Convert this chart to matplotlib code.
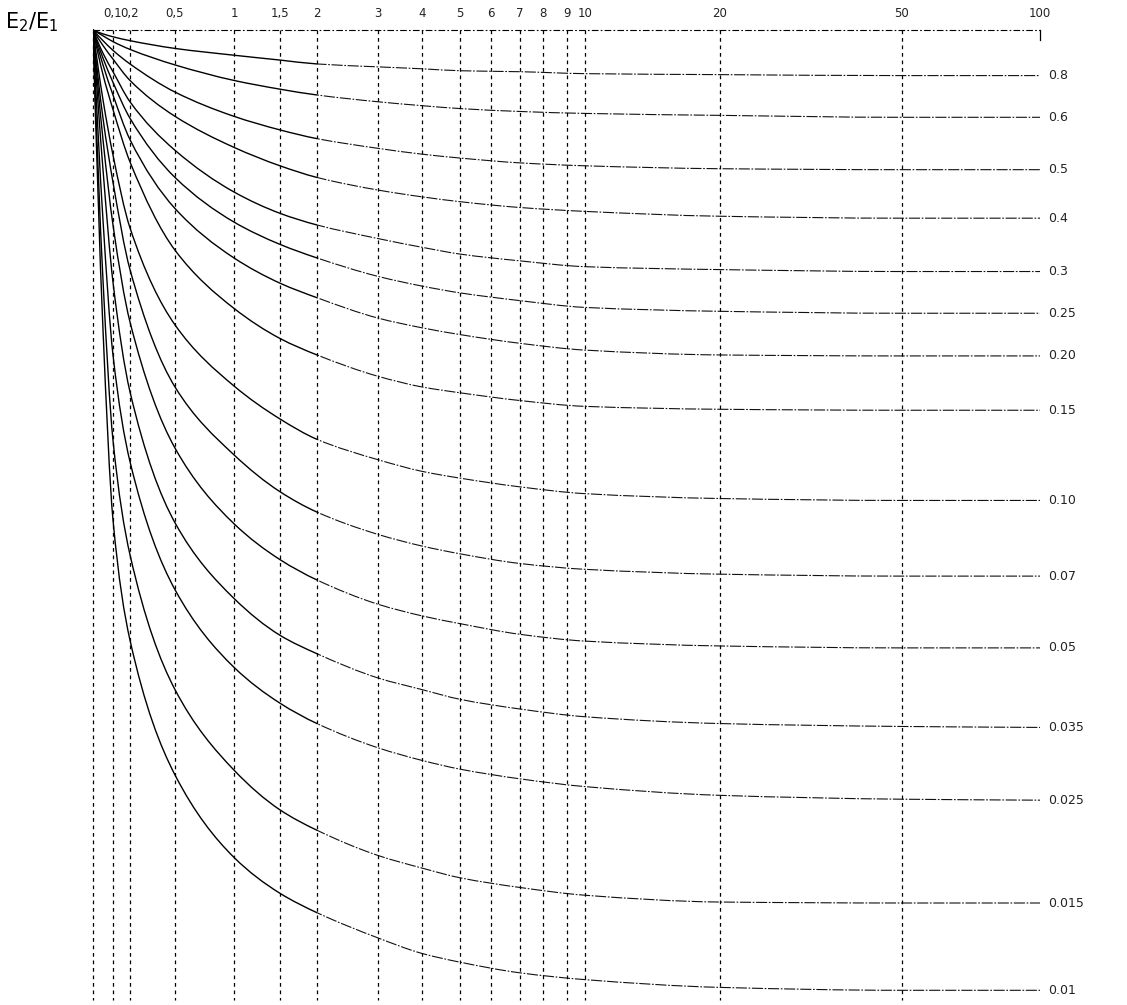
import numpy as np
import matplotlib
matplotlib.use("Agg")
import matplotlib.pyplot as plt
from matplotlib.path import Path
from matplotlib.patches import PathPatch, Rectangle

# top scale: grid values and their labels (comma decimals as in the original)
grid_vals = [0, 0.1, 0.2, 0.5, 1, 1.5, 2, 3, 4, 5, 6, 7, 8, 9, 10, 20, 50, 100]
grid_labels = ["", "0,1", "0,2", "0,5", "1", "1,5", "2", "3", "4", "5", "6",
               "7", "8", "9", "10", "20", "50", "100"]
# the printed scale is irregular, these are the tick places along the top edge
grid_place = [93, 113, 130, 175, 234, 280, 317, 378, 422, 460, 491, 520,
              543, 567, 585, 720, 902, 1040]

# sample points along each curve
x_pts = [0, 0.05, 0.1, 0.2, 0.5, 1, 1.5, 2, 3, 4, 5, 7, 10, 20, 50, 100]

e_080 = [1.000, 0.996, 0.993, 0.989, 0.981, 0.974, 0.969, 0.965, 0.962, 0.960, 0.958, 0.957, 0.955, 0.954, 0.953, 0.953]
e_060 = [1.000, 0.994, 0.988, 0.980, 0.964, 0.948, 0.939, 0.933, 0.926, 0.922, 0.919, 0.916, 0.914, 0.912, 0.910, 0.910]
e_050 = [1.000, 0.989, 0.979, 0.965, 0.936, 0.911, 0.897, 0.888, 0.878, 0.872, 0.868, 0.863, 0.860, 0.857, 0.856, 0.856]
e_040 = [1.000, 0.984, 0.970, 0.948, 0.911, 0.879, 0.860, 0.848, 0.835, 0.828, 0.823, 0.817, 0.813, 0.808, 0.806, 0.806]
e_030 = [1.000, 0.976, 0.957, 0.926, 0.876, 0.833, 0.811, 0.799, 0.785, 0.776, 0.769, 0.762, 0.756, 0.753, 0.751, 0.751]
e_025 = [1.000, 0.971, 0.946, 0.909, 0.848, 0.802, 0.779, 0.765, 0.746, 0.736, 0.729, 0.721, 0.714, 0.710, 0.708, 0.708]
e_020 = [1.000, 0.964, 0.933, 0.887, 0.816, 0.765, 0.739, 0.724, 0.703, 0.693, 0.686, 0.677, 0.670, 0.665, 0.664, 0.664]
e_015 = [1.000, 0.954, 0.918, 0.864, 0.773, 0.713, 0.682, 0.665, 0.643, 0.632, 0.626, 0.618, 0.612, 0.609, 0.608, 0.608]
e_010 = [1.000, 0.928, 0.871, 0.796, 0.696, 0.633, 0.599, 0.578, 0.557, 0.545, 0.538, 0.529, 0.522, 0.517, 0.515, 0.515]
e_007 = [1.000, 0.909, 0.843, 0.753, 0.632, 0.562, 0.524, 0.503, 0.480, 0.468, 0.460, 0.450, 0.444, 0.439, 0.437, 0.437]
e_005 = [1.000, 0.887, 0.799, 0.699, 0.569, 0.491, 0.454, 0.433, 0.408, 0.396, 0.388, 0.377, 0.370, 0.365, 0.363, 0.363]
e_0035 = [1.000, 0.856, 0.740, 0.627, 0.492, 0.414, 0.376, 0.357, 0.332, 0.320, 0.310, 0.300, 0.292, 0.285, 0.282, 0.281]
e_0025 = [1.000, 0.804, 0.665, 0.555, 0.423, 0.343, 0.306, 0.285, 0.260, 0.247, 0.238, 0.228, 0.220, 0.211, 0.207, 0.206]
e_0015 = [1.000, 0.742, 0.577, 0.459, 0.320, 0.237, 0.196, 0.175, 0.149, 0.136, 0.126, 0.116, 0.108, 0.101, 0.100, 0.100]
e_001 = [1.000, 0.691, 0.495, 0.371, 0.232, 0.147, 0.110, 0.090, 0.064, 0.048, 0.039, 0.028, 0.021, 0.013, 0.010, 0.010]

curve_labels = ["0.8", "0.6", "0.5", "0.4", "0.3", "0.25", "0.20", "0.15",
                "0.10", "0.07", "0.05", "0.035", "0.025", "0.015", "0.01"]
curves = [e_080, e_060, e_050, e_040, e_030, e_025, e_020, e_015,
          e_010, e_007, e_005, e_0035, e_0025, e_0015, e_001]


def fwd(x):
    return np.interp(x, grid_vals, grid_place)


def inv(p):
    return np.interp(p, grid_place, grid_vals)


def smooth_path(xs, ys):
    """monotone cubic through the read points, drawn as bezier segments"""
    X = fwd(np.asarray(xs, float))
    Y = np.asarray(ys, float)
    h = np.diff(X)
    d = np.diff(Y) / h
    n = len(X)
    m = np.zeros(n)
    for i in range(1, n - 1):
        if d[i - 1] * d[i] > 0:
            w1 = 2 * h[i] + h[i - 1]
            w2 = h[i] + 2 * h[i - 1]
            m[i] = (w1 + w2) / (w1 / d[i - 1] + w2 / d[i])
    m0 = ((2 * h[0] + h[1]) * d[0] - h[0] * d[1]) / (h[0] + h[1])
    if np.sign(m0) != np.sign(d[0]):
        m0 = 0
    elif abs(m0) > 3 * abs(d[0]):
        m0 = 3 * d[0]
    m[0] = m0
    m[-1] = d[-1]
    verts = [(X[0], Y[0])]
    codes = [Path.MOVETO]
    for i in range(n - 1):
        verts += [(X[i] + h[i] / 3, Y[i] + m[i] * h[i] / 3),
                  (X[i + 1] - h[i] / 3, Y[i + 1] - m[i + 1] * h[i] / 3),
                  (X[i + 1], Y[i + 1])]
        codes += [Path.CURVE4] * 3
    verts = np.array(verts)
    verts[:, 0] = inv(verts[:, 0])
    return Path(verts, codes)


fig = plt.figure(figsize=(11.27, 10.05), dpi=100)
fig.patch.set_facecolor("white")
ax = fig.add_axes([93 / 1127, 5 / 1005, 947 / 1127, 970 / 1005])
ax.set_xscale("function", functions=(fwd, inv))
ax.set_xlim(0, 100)
ax.set_ylim(0, 1)
ax.axis("off")

# vertical dashed grid
for v in grid_vals[:-1]:
    ax.plot([v, v], [1, 0], color="black", lw=0.9, ls=(0, (3, 3)),
            clip_on=False)

# top line E2/E1 = 1
ax.plot([0, 100], [1, 1], color="black", lw=0.8, ls=(0, (6, 2, 1.5, 2)),
        clip_on=False)
ax.plot([100, 100], [1, 0.99], color="black", lw=0.9, clip_on=False)

left_part = Rectangle((0, -0.1), 2, 1.2, transform=ax.transData,
                      fill=False, visible=False)
right_part = Rectangle((2, -0.1), 98.5, 1.2, transform=ax.transData,
                       fill=False, visible=False)
ax.add_patch(left_part)
ax.add_patch(right_part)

for lab, ys in zip(curve_labels, curves):
    p = smooth_path(x_pts, ys)
    solid = PathPatch(p, fill=False, edgecolor="black", lw=1.0)
    ax.add_patch(solid)
    solid.set_clip_path(left_part)
    broken = PathPatch(p, fill=False, edgecolor="#111111", lw=0.8,
                       ls=(0, (10, 1.5, 1.5, 1.5)))
    ax.add_patch(broken)
    broken.set_clip_path(right_part)
    ax.annotate(lab, (100, ys[-1]), xytext=(6, 0), textcoords="offset points",
                ha="left", va="center", fontsize=9, color="#222222")

for v, lab in zip(grid_vals, grid_labels):
    if lab:
        ax.annotate(lab, (v, 1), xytext=(0, 7), textcoords="offset points",
                    ha="center", va="bottom", fontsize=8.5, color="#222222")

fig.text(5 / 1127, 1 - 22 / 1005, "E$_2$/E$_1$", fontsize=15,
         ha="left", va="center")

fig.savefig("out.png", dpi=100, facecolor="white")
